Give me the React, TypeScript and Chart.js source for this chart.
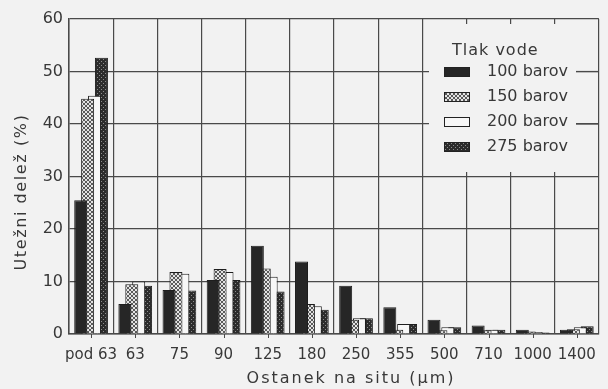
import React, { useEffect, useRef } from 'react';
import { Chart, registerables } from 'chart.js';

Chart.register(...registerables);

const categories = ['pod 63', '63', '75', '90', '125', '180', '250', '355', '500', '710', '1000', '1400'];
const seriesLabels = ['100 barov', '150 barov', '200 barov', '275 barov'];
const bar100 = [25.5, 5.7, 8.4, 10.3, 16.8, 13.8, 9.2, 5.1, 2.7, 1.6, 0.8, 0.8];
const bar150 = [44.8, 9.5, 11.8, 12.4, 12.5, 5.7, 2.7, 0.8, 0.7, 0.7, 0.5, 0.9];
const bar200 = [45.4, 10.0, 11.5, 11.8, 10.9, 5.3, 3.0, 1.9, 1.3, 0.8, 0.4, 1.3];
const bar275 = [52.6, 9.2, 8.3, 10.3, 8.1, 4.6, 3.0, 1.9, 1.3, 0.8, 0.3, 1.5];
const legendTitle = 'Tlak vode';
const xTitle = 'Ostanek na situ (µm)';
const yTitle = 'Utežni delež (%)';

const BG = '#f2f2f2';
const GRID = '#4a4a4a';
const TXT = '#383838';
const FONT = "'DejaVu Sans', sans-serif";

function makePattern(kind: string): CanvasPattern | string {
  const c = document.createElement('canvas');
  c.width = 4;
  c.height = 4;
  const ctx = c.getContext('2d');
  if (!ctx) return '#888';
  if (kind === 'hatch') {
    ctx.fillStyle = '#e4e4e4';
    ctx.fillRect(0, 0, 4, 4);
    ctx.fillStyle = '#5a5a5a';
    const pts = [[0, 0], [1, 1], [2, 2], [3, 3], [3, 0], [2, 1], [1, 2], [0, 3]];
    pts.forEach(([x, y]) => ctx.fillRect(x, y, 1, 1));
  } else if (kind === 'dots') {
    ctx.fillStyle = '#2c2c2c';
    ctx.fillRect(0, 0, 4, 4);
    ctx.fillStyle = '#8c8c8c';
    ctx.fillRect(1, 1, 1, 1);
    ctx.fillRect(3, 3, 1, 1);
  }
  const p = ctx.createPattern(c, 'repeat');
  return p || '#888';
}

export default function App() {
  const ref = useRef<HTMLCanvasElement | null>(null);

  useEffect(() => {
    const canvas = ref.current;
    if (!canvas) return;
    const fills = ['#262626', makePattern('hatch'), '#f7f7f7', makePattern('dots')];
    const seriesData = [bar100, bar150, bar200, bar275];

    const legendPlugin = {
      id: 'boxLegend',
      beforeDatasetsDraw(chart: any) {
        const ctx = chart.ctx;
        const y = chart.scales.y;
        ctx.save();
        ctx.fillStyle = BG;
        ctx.fillRect(429, 24, 147, 148);
        ctx.strokeStyle = GRID;
        ctx.lineWidth = 1.2;
        [50, 40].forEach((v) => {
          const py = y.getPixelForValue(v);
          ctx.beginPath();
          ctx.moveTo(576, py);
          ctx.lineTo(chart.chartArea.right, py);
          ctx.stroke();
        });
        ctx.restore();
      },
      afterDraw(chart: any) {
        const ctx = chart.ctx;
        const xs = chart.scales.x;
        const area = chart.chartArea;
        const bottom = area.bottom;
        ctx.save();
        // small ticks at category centres
        ctx.strokeStyle = GRID;
        ctx.lineWidth = 1;
        categories.forEach((_, i) => {
          const px = Math.round(xs.getPixelForTick(i)) + 0.5;
          ctx.beginPath();
          ctx.moveTo(px, bottom);
          ctx.lineTo(px, bottom + 4);
          ctx.stroke();
        });
        // legend
        ctx.fillStyle = TXT;
        ctx.font = `16px ${FONT}`;
        ctx.textBaseline = 'middle';
        ctx.textAlign = 'left';
        (ctx as any).letterSpacing = '1px';
        ctx.fillText(legendTitle, 452, 51);
        (ctx as any).letterSpacing = '0px';
        const rows = [72, 97, 122, 147];
        seriesLabels.forEach((lab, i) => {
          const ry = rows[i];
          ctx.fillStyle = fills[i] as any;
          ctx.fillRect(444, ry - 4.5, 26, 9);
          ctx.strokeStyle = '#222';
          ctx.lineWidth = 1;
          ctx.strokeRect(444.5, ry - 4.5, 25, 9);
          ctx.fillStyle = TXT;
          ctx.fillText(lab, 487, ry);
        });
        // axis titles
        ctx.textAlign = 'center';
        ctx.fillStyle = TXT;
        (ctx as any).letterSpacing = '2px';
        ctx.fillText(xTitle, 351, 379);
        ctx.translate(22, 192);
        ctx.rotate(-Math.PI / 2);
        (ctx as any).letterSpacing = '1.6px';
        ctx.fillText(yTitle, 0, 0);
        ctx.restore();
      },
    };

    const chart = new Chart(canvas, {
      type: 'bar',
      data: {
        labels: categories,
        datasets: seriesData.map((d, i) => ({
          label: seriesLabels[i],
          data: d,
          backgroundColor: fills[i] as any,
          borderColor: '#1e1e1e',
          borderWidth: 1,
          categoryPercentage: 0.626,
          barPercentage: 1.88,
        })),
      },
      options: {
        animation: false,
        responsive: false,
        maintainAspectRatio: false,
        layout: { padding: { top: 19, right: 2, left: 0, bottom: 0 } },
        plugins: {
          legend: { display: false },
          tooltip: { enabled: false },
        },
        scales: {
          x: {
            grid: { offset: true, color: GRID, lineWidth: 1.2, drawTicks: false },
            border: { color: GRID, width: 1.5 },
            ticks: {
              color: TXT,
              font: { family: FONT, size: 15 },
              padding: 12,
              autoSkip: false,
              maxRotation: 0,
              minRotation: 0,
            },
            afterFit: (s: any) => {
              s.height = 55;
            },
          },
          y: {
            min: 0,
            max: 60,
            grid: { color: GRID, lineWidth: 1.2, drawTicks: false },
            border: { color: GRID, width: 1.5 },
            ticks: {
              stepSize: 10,
              color: TXT,
              font: { family: FONT, size: 16 },
              padding: 6,
            },
            afterFit: (s: any) => {
              s.width = 69;
            },
          },
        },
      },
      plugins: [legendPlugin],
    });
    return () => chart.destroy();
  }, []);

  return (
    <div style={{ position: 'fixed', left: 0, top: 0, width: 608, height: 389, background: BG }}>
      <canvas ref={ref} width={608} height={389} style={{ display: 'block' }} />
    </div>
  );
}
